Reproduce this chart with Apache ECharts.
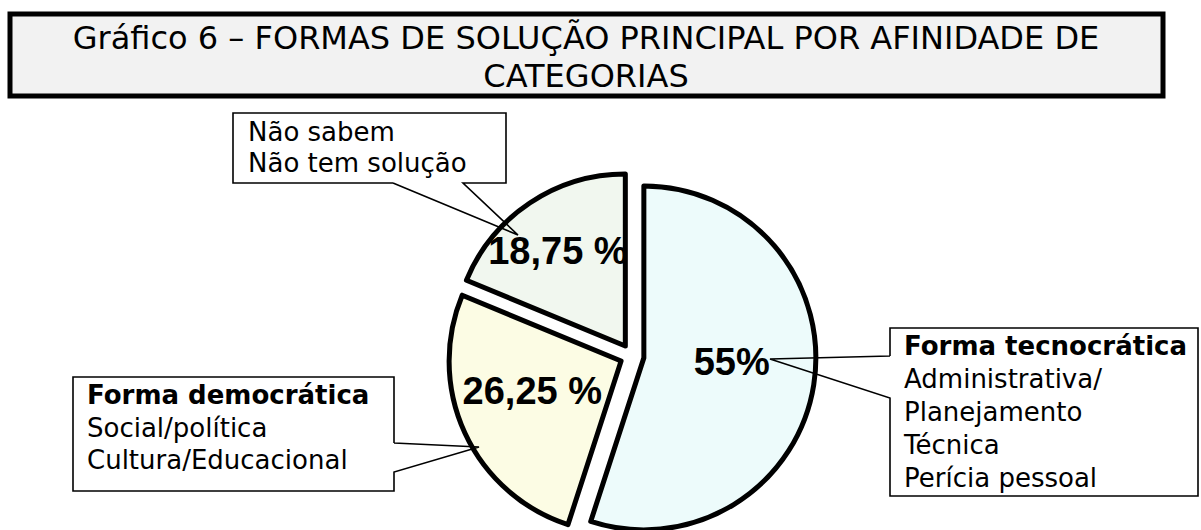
<!DOCTYPE html>
<html>
<head>
<meta charset="utf-8">
<script src="https://cdn.jsdelivr.net/npm/echarts@6/dist/echarts.min.js"></script>
<style>
  html,body{margin:0;padding:0;background:#fff;}
  #chart{width:1201px;height:530px;}
</style>
</head>
<body>
<div id="chart"></div>
<script>
// dados do gráfico
const titleLines = ['Gráfico 6 – FORMAS DE SOLUÇÃO PRINCIPAL POR AFINIDADE DE', 'CATEGORIAS']
const categories = ['Forma tecnocrática', 'Forma democrática', 'Não sabem / Não tem solução']
const values = [55, 26.25, 18.75]
const valueLabels = ['55%', '26,25 %', '18,75 %']
const sliceColors = ['#edfbfb', '#fcfce4', '#f1f7ef']
// textos dos balões
const calloutTecno = ['Forma tecnocrática', 'Administrativa/', 'Planejamento', 'Técnica', 'Perícia pessoal']
const calloutDemo = ['Forma democrática', 'Social/política', 'Cultura/Educacional']
const calloutNaoSabem = ['Não sabem', 'Não tem solução']

// deslocamento fino dos rótulos de porcentagem
const labelShift = [[0, -10], [-8, -7], [-18, -21]]

const chart = echarts.init(document.getElementById('chart'), null, {renderer: 'svg'})

const boxFont = '26px "DejaVu Sans"'
const boxFontBold = 'bold 26px "DejaVu Sans"'

// balão: retângulo branco + contorno com ponteiro
function callout(rect, outline, lines, textX, textY, lh, boldFirst) {
  const text = boldFirst
    ? '{b|' + lines[0] + '}\n' + lines.slice(1).join('\n')
    : lines.join('\n')
  return [
    {type: 'rect', z: 100, shape: rect, style: {fill: '#fff', stroke: null}},
    {type: 'polyline', z: 101, shape: {points: outline}, style: {fill: null, stroke: '#000', lineWidth: 1.6}},
    {
      type: 'text', z: 102, x: textX, y: textY,
      style: {
        text: text,
        font: boxFont, fill: '#000', lineHeight: lh, verticalAlign: 'top', align: 'left',
        rich: {b: {font: boxFontBold, lineHeight: lh, fill: '#000'}}
      }
    }
  ]
}

const graphics = [
  // caixa do título
  {type: 'rect', z: 100, shape: {x: 10, y: 14, width: 1153, height: 82}, style: {fill: '#f2f2f2', stroke: '#000', lineWidth: 5}},
  {
    type: 'text', z: 101, x: 586, y: 19,
    style: {text: titleLines.join('\n'), font: '32px "DejaVu Sans"', fill: '#000', align: 'center', verticalAlign: 'top', lineHeight: 38}
  }
]
  .concat(callout(
    {x: 233, y: 113, width: 273, height: 70},
    [[393, 183], [233, 183], [233, 113], [506, 113], [506, 183], [463, 183], [518, 235], [393, 183]],
    calloutNaoSabem, 248, 116, 31, false))
  .concat(callout(
    {x: 73, y: 377, width: 321, height: 114},
    [[394, 443], [394, 377], [73, 377], [73, 491], [394, 491], [394, 472], [479, 447], [394, 443]],
    calloutDemo, 87, 379, 32.5, true))
  .concat(callout(
    {x: 890, y: 328, width: 308, height: 168},
    [[890, 356], [890, 328], [1198, 328], [1198, 496], [890, 496], [890, 398], [770, 359], [890, 356]],
    calloutTecno, 904, 329, 33, true))

chart.setOption({
  animation: false,
  graphic: graphics,
  series: [
    {
      type: 'pie',
      center: [632, 356],
      radius: 172,
      startAngle: 90,
      clockwise: true,
      selectedMode: 'multiple',
      selectedOffset: 12,
      silent: true,
      itemStyle: {borderColor: '#000', borderWidth: 5},
      select: {itemStyle: {borderColor: '#000', borderWidth: 5}},
      emphasis: {disabled: true},
      label: {
        show: true,
        position: 'inside',
        color: '#000',
        fontFamily: '"Liberation Sans", Arial',
        fontWeight: 'bold',
        fontSize: 38,
        formatter: p => valueLabels[p.dataIndex]
      },
      labelLine: {show: false},
      labelLayout: p => ({dx: labelShift[p.dataIndex][0], dy: labelShift[p.dataIndex][1]}),
      data: values.map((v, i) => ({
        name: categories[i],
        value: v,
        selected: true,
        itemStyle: {color: sliceColors[i]}
      }))
    }
  ]
})
</script>
</body>
</html>
